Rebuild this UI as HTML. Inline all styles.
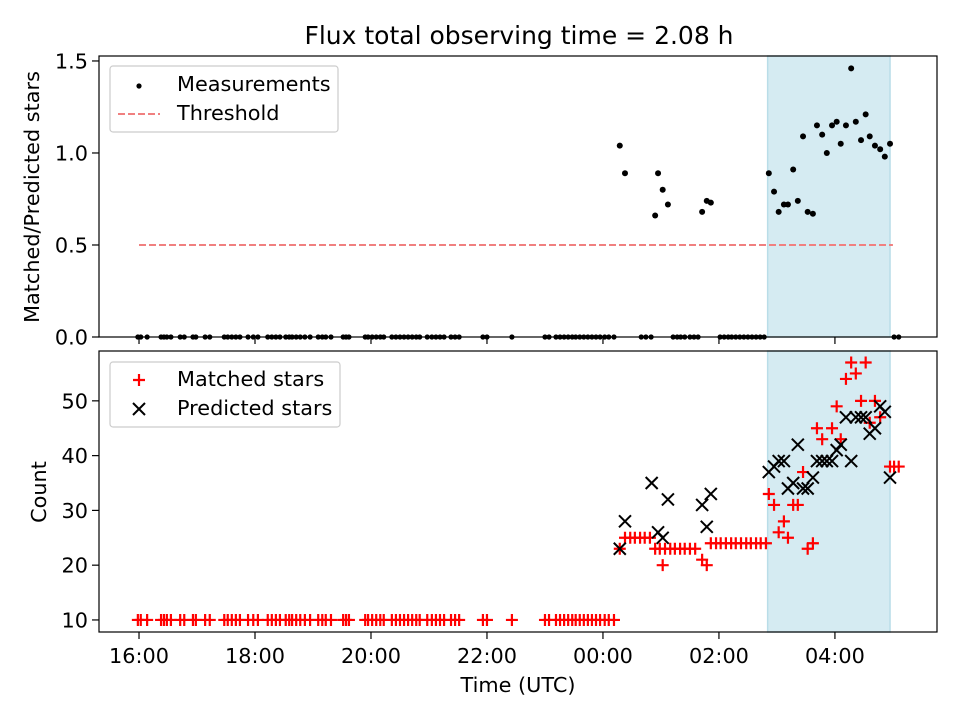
<!DOCTYPE html>
<html><head><meta charset="utf-8"><style>
body{margin:0;background:#fff}
svg{display:block;font-family:"DejaVu Sans","Liberation Sans",sans-serif}
</style></head><body>
<svg id="c" width="960" height="720" xmlns="http://www.w3.org/2000/svg"></svg>
<script>
const zeroTimes=[-0.02,0.03,0.14,0.38,0.43,0.48,0.55,0.71,0.78,0.93,0.98,1.14,1.22,1.47,1.53,1.60,1.67,1.74,1.88,1.97,2.05,2.22,2.29,2.36,2.43,2.53,2.59,2.64,2.71,2.78,2.86,2.95,3.09,3.16,3.22,3.31,3.52,3.57,3.62,3.90,3.95,4.02,4.09,4.16,4.22,4.36,4.43,4.50,4.57,4.64,4.71,4.78,4.84,4.97,5.05,5.12,5.19,5.26,5.38,5.45,5.52,5.93,6.00,6.43,7.00,7.07,7.19,7.26,7.33,7.40,7.47,7.53,7.60,7.67,7.74,7.81,7.88,7.95,8.03,8.10,8.19];
const zeroTimesLate=[8.66,8.74,8.83,9.21,9.28,9.34,9.41,9.50,9.57,9.64,10.02,10.09,10.16,10.22,10.29,10.36,10.43,10.50,10.57,10.64,10.71,10.78,13.02,13.10];
const ratioTimes=[8.29,8.38,8.90,8.95,9.03,9.12,9.71,9.79,9.86,10.86,10.95,11.03,11.12,11.19,11.28,11.36,11.45,11.53,11.62,11.69,11.78,11.86,11.95,12.03,12.10,12.19,12.28,12.36,12.45,12.53,12.60,12.69,12.78,12.86,12.95];
const ratioValues=[1.04,0.89,0.66,0.89,0.80,0.72,0.68,0.74,0.73,0.89,0.79,0.68,0.72,0.72,0.91,0.74,1.09,0.68,0.67,1.15,1.10,1.00,1.15,1.17,1.05,1.15,1.46,1.17,1.07,1.21,1.09,1.04,1.02,0.98,1.05];
const matchedTimes=[8.29,8.38,8.47,8.55,8.64,8.72,8.81,8.90,8.98,9.03,9.07,9.16,9.24,9.33,9.41,9.50,9.59,9.71,9.79,9.86,9.95,10.03,10.12,10.21,10.29,10.38,10.47,10.55,10.64,10.72,10.81,10.86,10.95,11.03,11.12,11.19,11.28,11.36,11.45,11.53,11.62,11.69,11.78,11.95,12.03,12.10,12.19,12.28,12.36,12.45,12.53,12.60,12.69,12.78,12.95,13.02,13.10];
const matchedValues=[23,25,25,25,25,25,25,23,23,20,23,23,23,23,23,23,23,21,20,24,24,24,24,24,24,24,24,24,24,24,24,33,31,26,28,25,31,31,37,23,24,45,43,45,49,43,54,57,55,50,57,46,50,47,38,38,38];
const predTimes=[8.29,8.38,8.84,8.95,9.03,9.12,9.71,9.79,9.86,10.86,10.95,11.03,11.12,11.19,11.28,11.36,11.45,11.53,11.62,11.69,11.78,11.86,11.95,12.03,12.10,12.19,12.28,12.36,12.45,12.53,12.60,12.69,12.78,12.86,12.95];
const predValues=[23,28,35,26,25,32,31,27,33,37,38,39,39,34,35,42,34,34,36,39,39,39,39,41,42,47,39,47,47,47,44,45,49,48,36];
const xTickHours=[0,2,4,6,8,10,12];
const xTickLabels=["16:00","18:00","20:00","22:00","00:00","02:00","04:00"];
const topTicks=[0,0.5,1.0,1.5];
const topTickLabels=["0.0","0.5","1.0","1.5"];
const botTicks=[10,20,30,40,50];
const threshold=0.5, thresholdStart=0, thresholdEnd=13.0;
const shadeStart=10.84, shadeEnd=12.95;

const NS="http://www.w3.org/2000/svg";
const svg=document.getElementById('c');
const L=99,R=937,T1=56,B1=337,T2=351,B2=632;
const FS=20.8;
const X=t=>L+(t+0.69)*(R-L)/14.45;
const Y1=v=>B1-v*(B1-T1)/1.527;
const Y2=v=>B2-(v-7.8)*(B2-T2)/51.3;
function mk(tag,at,parent){const e=document.createElementNS(NS,tag);for(const k in at)e.setAttribute(k,at[k]);(parent||svg).appendChild(e);return e;}
function txt(s,at){const e=mk('text',at);e.textContent=s;return e;}

function panel(T,B,name){
  const g=mk('g',{});
  
  
  const s=mk('rect',{x:X(shadeStart),y:T,width:X(shadeEnd)-X(shadeStart),height:B-T,fill:'#d5ebf2',stroke:'#b9dde8','stroke-width':1.5},g);
  
  
  return g;
}
const g1=panel(T1,B1,'ratio-panel');
const g2=panel(T2,B2,'count-panel');

const th=mk('line',{x1:X(thresholdStart),x2:X(thresholdEnd),y1:Y1(threshold),y2:Y1(threshold),stroke:'#f08080','stroke-width':2,'stroke-dasharray':'7,3'},g1);


zeroTimes.concat(zeroTimesLate).forEach(t=>{const c=mk('circle',{cx:X(t),cy:Y1(0),r:2.6,fill:'#000'},g1);

});
ratioTimes.forEach((t,i)=>{const c=mk('circle',{cx:X(t),cy:Y1(ratioValues[i]),r:3,fill:'#000'},g1);

});

function plus(x,y,g){return mk('path',{d:`M${x-6},${y}H${x+6}M${x},${y-6}V${y+6}`,stroke:'#f00','stroke-width':2.2},g);}
function cross(x,y,g){return mk('path',{d:`M${x-6},${y-6}L${x+6},${y+6}M${x-6},${y+6}L${x+6},${y-6}`,stroke:'#000','stroke-width':2},g);}
zeroTimes.forEach(t=>{const p=plus(X(t),Y2(10),g2);

});
matchedTimes.forEach((t,i)=>{const p=plus(X(t),Y2(matchedValues[i]),g2);

});
predTimes.forEach((t,i)=>{const p=cross(X(t),Y2(predValues[i]),g2);

});

[[T1,B1],[T2,B2]].forEach(([T,B],k)=>{
  const f=mk('rect',{x:L,y:T,width:R-L,height:B-T,fill:'none',stroke:'#000','stroke-width':1.2});
  
  
  xTickHours.forEach((h,i)=>{mk('line',{x1:X(h),x2:X(h),y1:B,y2:B+7,stroke:'#000','stroke-width':1.2});
    if(k){const t=txt(xTickLabels[i],{x:X(h),y:B+31,'font-size':FS,'text-anchor':'middle'});
    
    }});
});
topTicks.forEach((v,i)=>{mk('line',{x1:L-7,x2:L,y1:Y1(v),y2:Y1(v),stroke:'#000','stroke-width':1.2});
  const t=txt(topTickLabels[i],{x:L-11,y:Y1(v)+7.5,'font-size':FS,'text-anchor':'end'});
  
  });
botTicks.forEach(v=>{mk('line',{x1:L-7,x2:L,y1:Y2(v),y2:Y2(v),stroke:'#000','stroke-width':1.2});
  const t=txt(String(v),{x:L-11,y:Y2(v)+7.5,'font-size':FS,'text-anchor':'end'});
  
  });
</script>
<svg width="960" height="720" style="position:absolute;left:0;top:0" xmlns="http://www.w3.org/2000/svg" font-family="DejaVu Sans, Liberation Sans, sans-serif">
<text x="519" y="44" font-size="25" text-anchor="middle">Flux total observing time = 2.08 h</text>
<text transform="translate(39,197) rotate(-90)" font-size="20.8" text-anchor="middle">Matched/Predicted stars</text>
<text transform="translate(46,492) rotate(-90)" font-size="20.8" text-anchor="middle">Count</text>
<text x="518" y="692" font-size="20.8" text-anchor="middle">Time (UTC)</text>
<g>
<rect x="110" y="66" width="228" height="66" rx="3" fill="#fff" fill-opacity="0.8" stroke="#ccc" stroke-width="1.2"/>
<circle cx="139" cy="86" r="2.6" fill="#000"/>
<text x="177" y="91" font-size="20.8">Measurements</text>
<line x1="118" x2="160" y1="114" y2="114" stroke="#f08080" stroke-width="2" stroke-dasharray="7,3"/>
<text x="177" y="120" font-size="20.8">Threshold</text>
</g>
<g>
<rect x="110" y="362" width="230" height="65" rx="3" fill="#fff" fill-opacity="0.8" stroke="#ccc" stroke-width="1.2"/>
<path d="M133,380H145M139,374V386" stroke="#f00" stroke-width="2.2"/>
<text x="177" y="386" font-size="20.8">Matched stars</text>
<path d="M133,403L145,415M133,415L145,403" stroke="#000" stroke-width="2"/>
<text x="177" y="415" font-size="20.8">Predicted stars</text>
</g>
</svg>
</body></html>
